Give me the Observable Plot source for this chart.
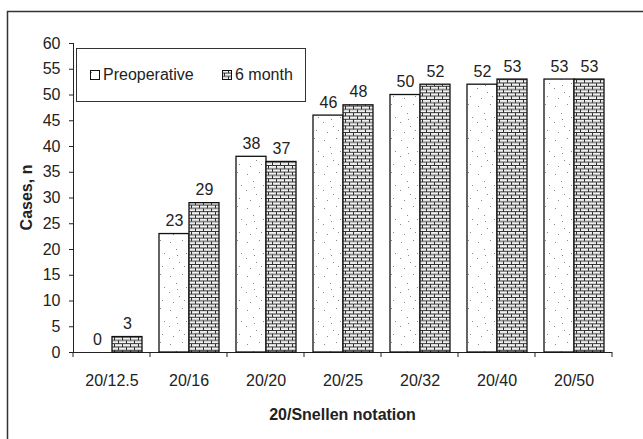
<!DOCTYPE html>
<html>
<head>
<meta charset="utf-8">
<script src="https://cdn.jsdelivr.net/npm/d3@7"></script>
<script src="https://cdn.jsdelivr.net/npm/@observablehq/plot@0.6"></script>
<style>
  html, body { margin: 0; padding: 0; background: white; }
</style>
</head>
<body>
<div id="chart"></div>
<script>
// Visual acuity groups (Snellen notation) and case counts per time point
const categories = ["20/12.5", "20/16", "20/20", "20/25", "20/32", "20/40", "20/50"];
const series = ["Preoperative", "6 month"];
const preoperative = [0, 23, 38, 46, 50, 52, 53];
const sixMonth = [3, 29, 37, 48, 52, 53, 53];
const yTicks = [0, 5, 10, 15, 20, 25, 30, 35, 40, 45, 50, 55, 60];
const yTitle = "Cases, n";
const xTitle = "20/Snellen notation";

const rows = categories.flatMap((cat, i) => [
  {cat, series: series[0], value: preoperative[i]},
  {cat, series: series[1], value: sixMonth[i]}
]);

const FONT = "'Liberation Sans', Arial, Helvetica, sans-serif";

const plot = Plot.plot({
  width: 643,
  height: 439,
  marginLeft: 71,
  marginRight: 29,
  marginTop: 43,
  marginBottom: 87,
  style: {fontFamily: FONT, fontSize: "16px", color: "#222", background: "white", overflow: "visible"},
  facet: {data: rows, x: "cat"},
  fx: {domain: categories, padding: 0, axis: "bottom", tickSize: 0, tickPadding: 22, label: null},
  x: {domain: series, paddingInner: 0, paddingOuter: 0.25, axis: null},
  y: {domain: [0, 60], ticks: yTicks, tickSize: 4, tickPadding: 9, line: true, label: null},
  marks: [
    Plot.ruleY([0], {stroke: "#222", strokeWidth: 1}),
    Plot.barY(rows, {
      filter: d => d.series === series[0],
      x: "series", y: "value",
      fill: "url(#dots)", stroke: "#111", strokeWidth: 1.3
    }),
    Plot.barY(rows, {
      filter: d => d.series === series[1],
      x: "series", y: "value",
      fill: "url(#bricks)", stroke: "#111", strokeWidth: 1.3
    }),
    Plot.text(rows, {
      x: "series", y: "value", text: d => String(d.value),
      dy: -13, fontSize: 16, fill: "#222"
    })
  ]
});

document.getElementById("chart").appendChild(plot);
const svgEl = plot.tagName.toLowerCase() === "svg" ? plot : plot.querySelector("svg");
const svg = d3.select(svgEl);

// Fill patterns: sparse stipple for preoperative, brick hatch for 6 month
const defs = svg.insert("defs", ":first-child");
const dots = defs.append("pattern")
  .attr("id", "dots").attr("patternUnits", "userSpaceOnUse")
  .attr("width", 22).attr("height", 34);
dots.append("rect").attr("width", 22).attr("height", 34).attr("fill", "white");
[[3, 4], [15, 2], [9, 11], [19, 15], [2, 20], [12, 24], [6, 30], [17, 28], [10, 17]].forEach(([cx, cy]) =>
  dots.append("rect").attr("x", cx).attr("y", cy).attr("width", 1).attr("height", 1).attr("fill", "#8a8a8a"));

const bricks = defs.append("pattern")
  .attr("id", "bricks").attr("patternUnits", "userSpaceOnUse")
  .attr("width", 8).attr("height", 6.6);
bricks.append("rect").attr("width", 8).attr("height", 6.6).attr("fill", "#f0f0f0");
bricks.append("path")
  .attr("d", "M0,0.5H8M0,3.8H8M0.5,0.5V3.8M4.5,3.8V7.1")
  .attr("stroke", "#2e2e2e").attr("stroke-width", 1).attr("fill", "none");

// Category boundary ticks below the baseline
const fx = plot.scale("fx");
const y = plot.scale("y");
const y0 = y.apply(0);
const bounds = categories.map(c => fx.apply(c)).concat([fx.apply(categories[categories.length - 1]) + fx.bandwidth]);
svg.append("g").selectAll("line").data(bounds).join("line")
  .attr("x1", d => d).attr("x2", d => d)
  .attr("y1", y0).attr("y2", y0 + 5)
  .attr("stroke", "#222").attr("stroke-width", 1);

// Axis titles
const xMid = (fx.range[0] + fx.range[1]) / 2;
svg.append("text")
  .attr("x", xMid).attr("y", 416)
  .attr("text-anchor", "middle").attr("dominant-baseline", "middle")
  .attr("font-family", FONT).attr("font-size", 16).attr("font-weight", "bold").attr("fill", "#222")
  .text(xTitle);
const yMid = (y.apply(0) + y.apply(60)) / 2;
svg.append("text")
  .attr("transform", `translate(28,${yMid}) rotate(-90)`)
  .attr("text-anchor", "middle").attr("dominant-baseline", "middle")
  .attr("font-family", FONT).attr("font-size", 16).attr("font-weight", "bold").attr("fill", "#222")
  .text(yTitle);

// Legend box
const legend = svg.append("g").attr("text-anchor", "start");
legend.append("rect")
  .attr("x", 76.5).attr("y", 48.5).attr("width", 229).attr("height", 53)
  .attr("fill", "white").attr("stroke", "#333").attr("stroke-width", 1);
const legendItems = [
  {name: series[0], fill: "url(#dots)", x: 90},
  {name: series[1], fill: "url(#bricks)", x: 222}
];
legendItems.forEach(it => {
  legend.append("rect")
    .attr("x", it.x + 0.5).attr("y", 70.5).attr("width", 9).attr("height", 9)
    .attr("fill", it.fill).attr("stroke", "#111").attr("stroke-width", 1);
  legend.append("text")
    .attr("x", it.x + 13).attr("y", 75.5)
    .attr("text-anchor", "start").attr("dominant-baseline", "middle")
    .attr("font-family", FONT).attr("font-size", 16).attr("fill", "#222")
    .text(it.name);
});

// Outer chart border
svg.append("rect")
  .attr("x", 7.5).attr("y", 11.5).attr("width", 700).attr("height", 500)
  .attr("fill", "none").attr("stroke", "#333").attr("stroke-width", 1.5);
</script>
</body>
</html>
